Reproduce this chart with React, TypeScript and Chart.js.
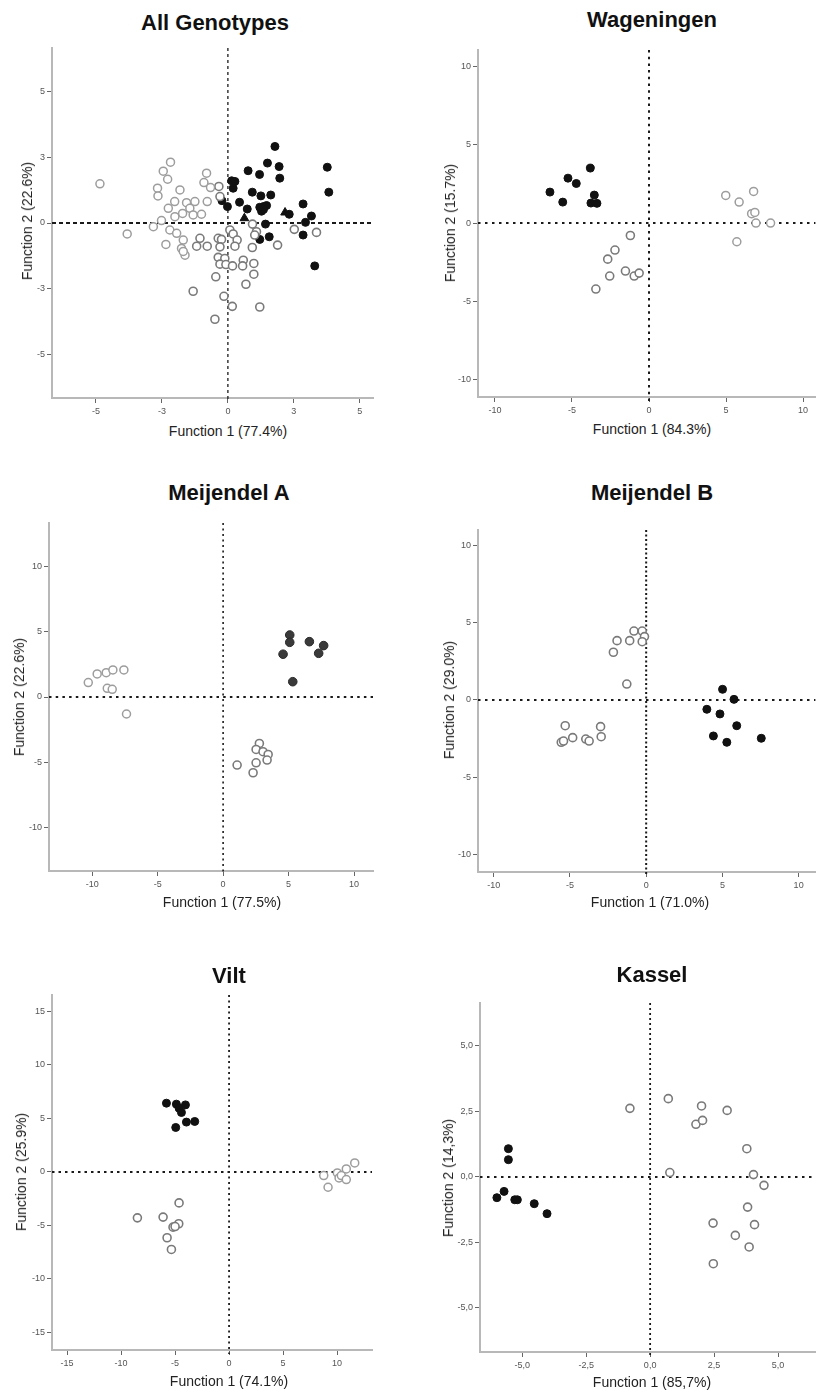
import React, { useEffect, useRef } from "react";
import { Chart, registerables } from "chart.js";

Chart.register(...registerables);

type Pt = [number, number];

// ---------- DATA ----------
// All Genotypes
const allFilled: Pt[] = [
  [2.14, 3.5], [1.8, 2.74], [2.33, 2.58], [4.52, 2.55], [0.92, 2.39], [1.44, 2.22], [2.36, 2.05],
  [0.17, 1.93], [0.32, 1.9], [0.24, 1.59], [4.59, 1.41], [1.11, 1.41], [1.5, 1.24], [1.95, 1.28],
  [-0.27, 1.02], [0.53, 0.95], [-0.02, 0.75], [0.88, 0.64], [1.61, 0.75], [1.76, 0.8], [1.53, 0.54],
  [1.62, 0.62], [1.45, 0.72], [3.42, 0.87], [2.79, 0.4], [3.8, 0.32], [3.53, 0.03], [1.71, -0.05],
  [1.45, -0.75], [1.88, -0.63], [3.42, -0.55], [3.95, -1.96],
];
const allTriangles: Pt[] = [[0.75, 0.22], [2.6, 0.48]];
const allOpenLight: Pt[] = [
  [-5.82, 1.79], [-4.58, -0.5], [-2.61, 2.78], [-2.94, 2.37], [-2.74, 2.0], [-3.2, 1.59], [-3.18, 1.24],
  [-2.18, 1.51], [-2.42, 0.98], [-2.71, 0.67], [-1.88, 0.93], [-1.5, 0.98], [-1.73, 0.67], [-2.06, 0.44],
  [-2.41, 0.29], [-1.58, 0.37], [-1.2, 0.4], [-0.94, 0.98], [-1.09, 1.85], [-0.97, 2.28], [-0.79, 1.62],
  [-3.02, 0.11], [-3.39, -0.17], [-2.64, -0.32], [-2.33, -0.47], [-2.82, -0.98], [-2.03, -0.78],
  [-2.11, -1.16], [-1.95, -1.47], [-2.03, -1.3],
];
const allOpenDark: Pt[] = [
  [-0.41, 1.67], [-0.36, 1.21], [-1.27, -0.7], [-1.42, -1.06], [-0.94, -1.06], [-0.44, -0.7], [-0.29, -0.75],
  [-0.36, -1.09], [-0.44, -1.57], [-0.14, -1.62], [-0.36, -1.88], [-0.09, -1.9], [0.21, -1.96], [0.09, -0.32],
  [0.24, -0.5], [0.42, -0.78], [0.32, -1.06], [0.7, -1.7], [0.67, -1.96], [1.18, -1.85], [1.11, -1.12],
  [1.12, -0.05], [1.3, -0.4], [1.22, -0.55], [2.26, -1.01], [3.02, -0.29], [4.03, -0.43], [-0.55, -2.46],
  [0.82, -2.8], [1.18, -2.34], [-1.58, -3.12], [-0.18, -3.35], [0.2, -3.81], [1.45, -3.84], [-0.59, -4.4],
];
const allTickValues = [-6, -3, 0, 3, 6];
const allXTickLabels = ["-5", "-3", "0", "3", "5"];
const allYTickLabels = ["-5", "-3", "0", "3", "5"];

// Wageningen
const wagFilled: Pt[] = [
  [-6.43, 1.98], [-5.26, 2.87], [-4.72, 2.53], [-3.81, 3.51], [-5.6, 1.34], [-3.55, 1.79], [-3.77, 1.28], [-3.38, 1.26],
];
const wagOpenDark: Pt[] = [
  [-1.21, -0.79], [-2.21, -1.72], [-2.68, -2.3], [-2.55, -3.38], [-1.53, -3.06], [-0.96, -3.38], [-0.64, -3.19], [-3.45, -4.21],
];
const wagOpenLight: Pt[] = [
  [4.98, 1.77], [5.85, 1.34], [6.79, 2.02], [6.66, 0.6], [6.87, 0.68], [6.94, 0.0], [7.89, 0.0], [5.7, -1.19],
];

// Meijendel A
const meiAFilled: Pt[] = [
  [5.09, 4.74], [5.09, 4.18], [6.59, 4.23], [7.68, 3.93], [7.3, 3.34], [4.58, 3.27], [5.32, 1.17],
];
const meiAOpenLight: Pt[] = [
  [-10.3, 1.1], [-9.62, 1.76], [-8.93, 1.86], [-8.42, 2.07], [-7.58, 2.07], [-8.85, 0.66], [-8.47, 0.59], [-7.38, -1.3],
];
const meiAOpenDark: Pt[] = [
  [2.77, -3.55], [2.52, -4.01], [3.05, -4.18], [3.44, -4.39], [3.36, -4.82], [2.52, -5.03], [1.07, -5.2], [2.29, -5.79],
];

// Meijendel B
const meiBFilled: Pt[] = [
  [5.01, 0.69], [5.76, 0.04], [3.98, -0.6], [4.84, -0.9], [5.94, -1.66], [4.41, -2.32], [5.29, -2.73], [7.55, -2.47],
];
const meiBOpenUpper: Pt[] = [
  [-0.8, 4.45], [-0.26, 4.45], [-0.11, 4.09], [-0.26, 3.76], [-1.91, 3.83], [-1.08, 3.83], [-2.15, 3.08], [-1.27, 1.03],
];
const meiBOpenLower: Pt[] = [
  [-5.31, -1.66], [-2.99, -1.72], [-4.82, -2.43], [-3.96, -2.52], [-3.74, -2.65], [-2.95, -2.37], [-5.57, -2.73], [-5.42, -2.65],
];

// Vilt
const viltFilled: Pt[] = [
  [-5.8, 6.43], [-4.88, 6.34], [-4.04, 6.27], [-4.63, 5.96], [-4.41, 5.56], [-3.95, 4.66], [-3.18, 4.72], [-4.94, 4.16],
];
const viltOpenDark: Pt[] = [
  [-4.63, -2.89], [-8.49, -4.29], [-6.11, -4.22], [-4.66, -4.84], [-5.19, -5.16], [-5.0, -5.1], [-5.74, -6.15], [-5.34, -7.24],
];
const viltOpenLight: Pt[] = [
  [8.77, -0.34], [9.17, -1.43], [10.03, -0.09], [10.19, -0.56], [10.4, -0.34], [10.86, 0.28], [10.86, -0.71], [11.64, 0.84],
];

// Kassel
const kasFilled: Pt[] = [
  [-5.54, 1.08], [-5.54, 0.66], [-5.71, -0.55], [-5.99, -0.79], [-5.29, -0.87], [-5.19, -0.87], [-4.53, -1.02], [-4.03, -1.4],
];
const kasOpen: Pt[] = [
  [-0.79, 2.62], [0.71, 2.99], [2.01, 2.71], [3.01, 2.54], [1.79, 2.01], [2.05, 2.16], [3.78, 1.08], [0.77, 0.17],
  [4.04, 0.09], [4.45, -0.32], [3.81, -1.15], [2.46, -1.76], [4.08, -1.82], [3.33, -2.23], [3.87, -2.67], [2.47, -3.31],
];

const tick10 = [-10, -5, 0, 5, 10];
const tick10Labels = ["-10", "-5", "0", "5", "10"];
const viltTicks = [-15, -10, -5, 0, 5, 10, 15];
const viltXTicks = [-15, -10, -5, 0, 5, 10];
const viltXTickLabels = ["-15", "-10", "-5", "0", "5", "10"];
const viltYTickLabels = ["-15", "-10", "-5", "0", "5", "10", "15"];
const kasTicks = [-5, -2.5, 0, 2.5, 5];
const kasTickLabels = ["-5,0", "-2,5", "0,0", "2,5", "5,0"];

// ---------- STYLE ----------
const FONT = '"Liberation Sans", Arial, Helvetica, sans-serif';

type Kind = "black" | "darkfill" | "dark" | "light" | "tri";
const markerStyle: Record<Kind, any> = {
  black: { backgroundColor: "#111", borderColor: "#111", pointStyle: "circle", radius: 4, borderWidth: 1 },
  darkfill: { backgroundColor: "#3a3a3a", borderColor: "#2a2a2a", pointStyle: "circle", radius: 4.3, borderWidth: 1 },
  dark: { backgroundColor: "#fff", borderColor: "#7a7a7a", pointStyle: "circle", radius: 4, borderWidth: 1.6 },
  light: { backgroundColor: "#fff", borderColor: "#9d9d9d", pointStyle: "circle", radius: 4, borderWidth: 1.5 },
  tri: { backgroundColor: "#111", borderColor: "#111", pointStyle: "triangle", radius: 5, borderWidth: 1 },
};

interface Panel {
  title: string;
  xTitle: string;
  yTitle: string;
  series: { pts: Pt[]; kind: Kind }[];
  xMin: number; xMax: number; yMin: number; yMax: number;
  xTicks: number[]; xLabels: string[]; yTicks: number[]; yLabels: string[];
  area: { l: number; r: number; t: number; b: number };
  titlePos: [number, number];
  xTitlePos: [number, number];
  yTitlePos: [number, number];
  hDash: number[]; hWidth: number; vDash: number[]; vWidth: number;
}

const panels: Panel[] = [
  {
    title: "All Genotypes", xTitle: "Function 1 (77.4%)", yTitle: "Function 2 (22.6%)",
    series: [
      { pts: allOpenLight, kind: "light" }, { pts: allOpenDark, kind: "dark" },
      { pts: allFilled, kind: "black" }, { pts: allTriangles, kind: "tri" },
    ],
    xMin: -8, xMax: 6.6, yMin: -8, yMax: 8,
    xTicks: allTickValues, xLabels: allXTickLabels, yTicks: allTickValues, yLabels: allYTickLabels,
    area: { l: 52, r: 373, t: 48, b: 398 },
    titlePos: [215, 23], xTitlePos: [228, 431], yTitlePos: [27, 221],
    hDash: [4, 3], hWidth: 2, vDash: [3, 3], vWidth: 1.3,
  },
  {
    title: "Wageningen", xTitle: "Function 1 (84.3%)", yTitle: "Function 2 (15.7%)",
    series: [
      { pts: wagOpenDark, kind: "dark" }, { pts: wagOpenLight, kind: "light" }, { pts: wagFilled, kind: "black" },
    ],
    xMin: -11.1, xMax: 10.8, yMin: -11.1, yMax: 11.05,
    xTicks: tick10, xLabels: tick10Labels, yTicks: tick10, yLabels: tick10Labels,
    area: { l: 478, r: 821, t: 50, b: 397 },
    titlePos: [652, 20], xTitlePos: [652, 429], yTitlePos: [450, 223],
    hDash: [2.5, 4.5], hWidth: 2, vDash: [2.5, 4.2], vWidth: 2,
  },
  {
    title: "Meijendel A", xTitle: "Function 1 (77.5%)", yTitle: "Function 2 (22.6%)",
    series: [
      { pts: meiAOpenLight, kind: "light" }, { pts: meiAOpenDark, kind: "dark" }, { pts: meiAFilled, kind: "darkfill" },
    ],
    xMin: -13.3, xMax: 11.45, yMin: -13.3, yMax: 13.3,
    xTicks: tick10, xLabels: tick10Labels, yTicks: tick10, yLabels: tick10Labels,
    area: { l: 49, r: 373, t: 523, b: 871 },
    titlePos: [229, 493], xTitlePos: [222, 902], yTitlePos: [19, 697],
    hDash: [2.5, 4.2], hWidth: 2, vDash: [2, 3.5], vWidth: 1.6,
  },
  {
    title: "Meijendel B", xTitle: "Function 1 (71.0%)", yTitle: "Function 2 (29.0%)",
    series: [
      { pts: meiBOpenUpper, kind: "dark" }, { pts: meiBOpenLower, kind: "dark" }, { pts: meiBFilled, kind: "black" },
    ],
    xMin: -11.03, xMax: 11.1, yMin: -11.1, yMax: 10.97,
    xTicks: tick10, xLabels: tick10Labels, yTicks: tick10, yLabels: tick10Labels,
    area: { l: 478, r: 821, t: 530, b: 872 },
    titlePos: [652, 493], xTitlePos: [650, 902], yTitlePos: [449, 700],
    hDash: [2.5, 4.5], hWidth: 1.8, vDash: [2, 2.5], vWidth: 2,
  },
  {
    title: "Vilt", xTitle: "Function 1 (74.1%)", yTitle: "Function 2 (25.9%)",
    series: [
      { pts: viltOpenDark, kind: "dark" }, { pts: viltOpenLight, kind: "light" }, { pts: viltFilled, kind: "black" },
    ],
    xMin: -16.4, xMax: 13.24, yMin: -16.64, yMax: 16.54,
    xTicks: viltXTicks, xLabels: viltXTickLabels, yTicks: viltTicks, yLabels: viltYTickLabels,
    area: { l: 52, r: 372, t: 995, b: 1350 },
    titlePos: [229, 976], xTitlePos: [229, 1381], yTitlePos: [21, 1172],
    hDash: [2.5, 4], hWidth: 2, vDash: [2, 3.5], vWidth: 1.8,
  },
  {
    title: "Kassel", xTitle: "Function 1 (85,7%)", yTitle: "Function 2 (14,3%)",
    series: [{ pts: kasOpen, kind: "dark" }, { pts: kasFilled, kind: "black" }],
    xMin: -6.65, xMax: 6.46, yMin: -6.68, yMax: 6.64,
    xTicks: kasTicks, xLabels: kasTickLabels, yTicks: kasTicks, yLabels: kasTickLabels,
    area: { l: 480, r: 821, t: 1003, b: 1352 },
    titlePos: [652, 975], xTitlePos: [652, 1382], yTitlePos: [448, 1178],
    hDash: [2.5, 4.5], hWidth: 2, vDash: [2, 3], vWidth: 1.8,
  },
];

const YW = 34; // forced y-axis width
const XH = 24; // forced x-axis height
const PT = 8; // top padding above chart area

const zeroLines = {
  id: "zeroLines",
  beforeDatasetsDraw(chart: any, _args: any, opts: any) {
    const { ctx, chartArea, scales } = chart;
    const x0 = scales.x.getPixelForValue(0);
    const y0 = scales.y.getPixelForValue(0);
    ctx.save();
    ctx.strokeStyle = "#1a1a1a";
    ctx.lineWidth = opts.vWidth;
    ctx.setLineDash(opts.vDash);
    ctx.beginPath();
    ctx.moveTo(x0, chartArea.top);
    ctx.lineTo(x0, chartArea.bottom + 4);
    ctx.stroke();
    ctx.lineWidth = opts.hWidth;
    ctx.setLineDash(opts.hDash);
    ctx.beginPath();
    ctx.moveTo(chartArea.left, y0);
    ctx.lineTo(chartArea.right, y0);
    ctx.stroke();
    ctx.restore();
  },
};

function axisOptions(min: number, max: number, ticks: number[], labels: string[], horizontal: boolean) {
  return {
    type: "linear",
    min,
    max,
    afterBuildTicks: (s: any) => {
      s.ticks = ticks.map((v) => ({ value: v }));
    },
    afterFit: (s: any) => {
      if (horizontal) s.height = XH;
      else s.width = YW;
    },
    ticks: {
      autoSkip: false,
      maxRotation: 0,
      minRotation: 0,
      padding: horizontal ? 3 : 2,
      color: "#555",
      font: { family: FONT, size: 9 },
      callback: (_v: any, i: number) => labels[i],
    },
    grid: { display: true, drawOnChartArea: false, drawTicks: true, tickLength: 5, color: "#666", lineWidth: 1 },
    border: { display: true, color: "#b8b8b8", width: 2 },
    title: { display: false },
  };
}

function ChartPanel({ p }: { p: Panel }) {
  const ref = useRef<HTMLCanvasElement>(null);
  const padRight = p.area.r >= 821 ? 0 : 410 - p.area.r;
  const left = p.area.l - YW;
  const top = p.area.t - PT;
  const width = p.area.r + padRight - left;
  const height = PT + (p.area.b - p.area.t) + XH;

  useEffect(() => {
    if (!ref.current) return;
    const chart = new Chart(ref.current, {
      type: "scatter",
      data: {
        datasets: p.series.map((s) => {
          const st = markerStyle[s.kind];
          return {
            data: s.pts.map(([x, y]) => ({ x, y })),
            backgroundColor: st.backgroundColor,
            borderColor: st.borderColor,
            pointStyle: st.pointStyle,
            pointRadius: st.radius,
            pointBorderWidth: st.borderWidth,
            pointHoverRadius: st.radius,
          };
        }),
      },
      options: {
        animation: false,
        responsive: false,
        maintainAspectRatio: false,
        events: [],
        layout: { padding: { top: PT, right: padRight, left: 0, bottom: 0 } },
        plugins: {
          legend: { display: false },
          tooltip: { enabled: false },
          title: { display: false },
          zeroLines: { hDash: p.hDash, hWidth: p.hWidth, vDash: p.vDash, vWidth: p.vWidth },
        } as any,
        scales: {
          x: axisOptions(p.xMin, p.xMax, p.xTicks, p.xLabels, true) as any,
          y: axisOptions(p.yMin, p.yMax, p.yTicks, p.yLabels, false) as any,
        },
      },
      plugins: [zeroLines],
    });
    return () => chart.destroy();
  }, [p]);

  return (
    <canvas
      ref={ref}
      width={width}
      height={height}
      style={{ position: "absolute", left, top, width, height }}
    />
  );
}

function Label({ text, pos, size, bold, rotate }: { text: string; pos: [number, number]; size: number; bold?: boolean; rotate?: boolean }) {
  return (
    <div
      style={{
        position: "absolute",
        left: pos[0],
        top: pos[1],
        transform: `translate(-50%, -50%)${rotate ? " rotate(-90deg)" : ""}`,
        whiteSpace: "nowrap",
        fontFamily: FONT,
        fontSize: size,
        fontWeight: bold ? 700 : 400,
        lineHeight: 1,
        color: bold ? "#111" : "#222",
      }}
    >
      {text}
    </div>
  );
}

export default function App() {
  return (
    <div style={{ position: "absolute", left: 0, top: 0, width: 821, height: 1393, background: "#fff", overflow: "hidden" }}>
      {panels.map((p, i) => (
        <React.Fragment key={i}>
          <ChartPanel p={p} />
          <Label text={p.title} pos={p.titlePos} size={22} bold />
          <Label text={p.xTitle} pos={p.xTitlePos} size={14} />
          <Label text={p.yTitle} pos={p.yTitlePos} size={14} rotate />
        </React.Fragment>
      ))}
    </div>
  );
}
